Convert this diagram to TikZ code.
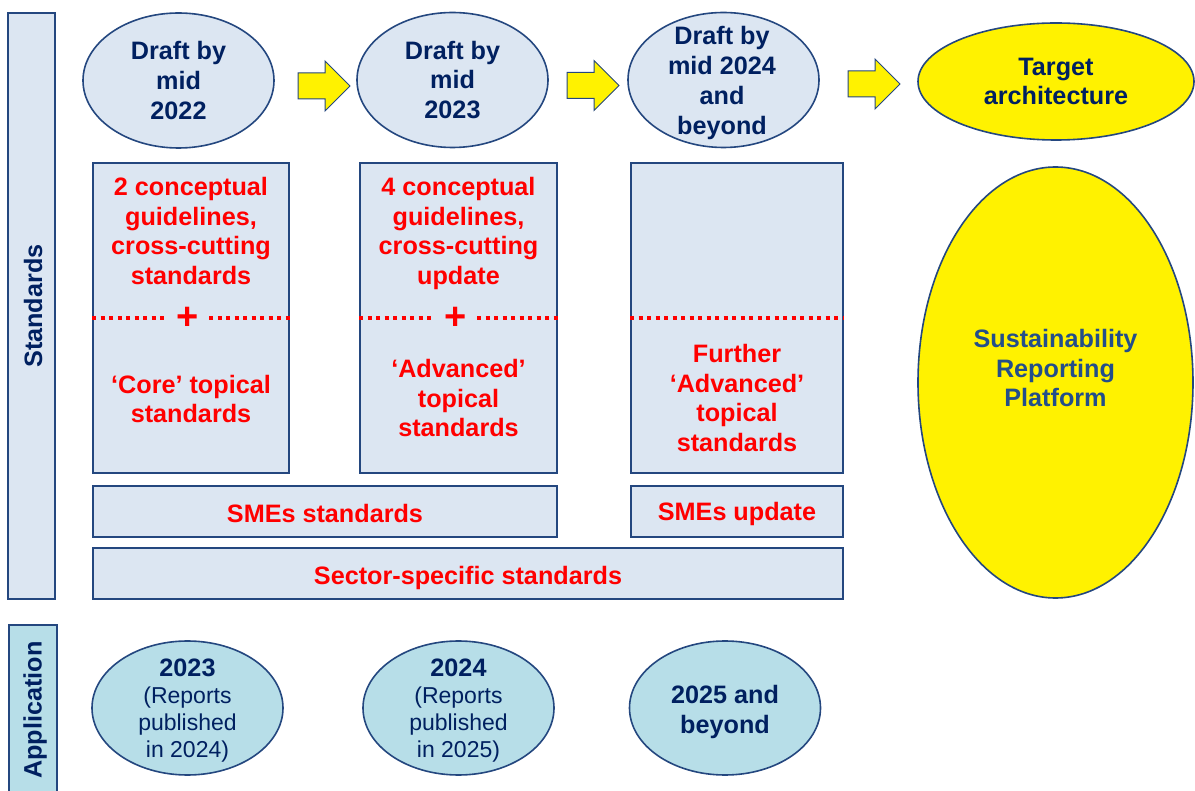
\documentclass[tikz,border=0pt]{standalone}
\usepackage{fontspec}
\setmainfont{Liberation Sans}
\usetikzlibrary{shapes.geometric}
\definecolor{boxfill}{HTML}{DCE6F2}
\definecolor{boxline}{HTML}{24477F}
\definecolor{navy}{HTML}{002060}
\definecolor{platblue}{HTML}{234E8A}
\definecolor{appfill}{HTML}{B7DEE8}
\definecolor{alertred}{HTML}{FF0000}
\tikzset{
  bigfont/.style={font=\fontsize{25.2}{29.8}\selectfont\bfseries},
  phase/.style={ellipse, draw=boxline, line width=1.6pt, fill=boxfill, inner sep=0pt,
    minimum width=191pt, minimum height=135pt, text=navy, align=center, bigfont},
  target/.style={phase, fill=yellow, minimum width=276pt, minimum height=117pt},
  apply/.style={phase, fill=appfill, minimum height=134pt},
  applytext/.style={text=navy, align=center, inner sep=0pt, font=\fontsize{23}{27}\selectfont},
  stdbox/.style={rectangle, draw=boxline, line width=1.8pt, fill=boxfill, inner sep=0pt},
  redtext/.style={bigfont, text=alertred, align=center, inner sep=0pt},
  plussign/.style={text=alertred, font=\fontsize{38}{38}\selectfont\bfseries, inner sep=0pt,
    minimum width=43pt},
  dotline/.style={alertred, line width=3.5pt, dash pattern=on 4pt off 4.5pt},
  blockarrow/.style={fill=yellow, draw=boxline, line width=1pt, line join=miter}
}
\begin{document}
\begin{tikzpicture}[x=1pt, y=-1pt]
\useasboundingbox (0,0) rectangle (1195,791);
\clip (0,0) rectangle (1195,791);

% side bars
\node[stdbox, minimum width=47pt, minimum height=586pt] (stdbar) at (31.5,306) {};
\node[rotate=90, bigfont, text=navy] (stdlab) at (33,306) {Standards};
\node[stdbox, fill=appfill, minimum width=48pt, minimum height=200pt] (appbar) at (33,725) {};
\node[rotate=90, bigfont, text=navy] (applab) at (35,710) {Application};

% drafts
\node[phase] (d1) at (178.5,80.5) {Draft by\\mid\\2022};
\node[phase] (d2) at (452.5,80) {Draft by\\mid\\2023};
\node[phase] (d3) at (723.5,80) {};
\node[bigfont, text=navy, align=center, inner sep=0pt] (d3lab) at (722,83)
  {Draft by\\mid 2024\\and\\beyond};
\node[target] (tgt) at (1056,81.5) {Target\\architecture};

% arrows: start x / centre y
\foreach \x/\c in {298/86, 567/85.5, 848/84}
  \draw[blockarrow] (\x,\c-13) -- (\x+27,\c-13) -- (\x+27,\c-25) -- (\x+52,\c)
    -- (\x+27,\c+25) -- (\x+27,\c+13) -- (\x,\c+13) -- cycle;

% standards columns
\node[stdbox, minimum width=196pt, minimum height=310pt] (col1) at (191,318) {};
\node[stdbox, minimum width=197pt, minimum height=310pt] (col2) at (458.5,318) {};
\node[stdbox, minimum width=212pt, minimum height=310pt] (col3) at (737,318) {};

\node[redtext] (c1top) at (191,231) {2 conceptual\\guidelines,\\cross-cutting\\standards};
\node[redtext] (c1bot) at (191,399) {‘Core’ topical\\standards};
\node[redtext] (c2top) at (458.5,233.5) {4 conceptual\\guidelines,\\cross-cutting\\update};
\node[redtext] (c2bot) at (458.5,398) {‘Advanced’\\topical\\standards};
\node[redtext] (c3bot) at (737,398) {Further\\‘Advanced’\\topical\\standards};

\node[plussign] (plus1) at (187.5,318) {+};
\node[plussign] (plus2) at (455.5,318) {+};
\draw[dotline] (col1.west) -- (plus1.west);
\draw[dotline] (plus1.east) -- (col1.east);
\draw[dotline] (col2.west) -- (plus2.west);
\draw[dotline] (plus2.east) -- (col2.east);
\draw[dotline] (col3.west) -- (col3.east);

% lower rows
\node[stdbox, minimum width=464pt, minimum height=51pt] (smes) at (325,511.5) {};
\node[stdbox, minimum width=212pt, minimum height=51pt] (smeup) at (737,511.5) {};
\node[stdbox, minimum width=750pt, minimum height=51pt] (sector) at (468,573.5) {};
\node[redtext, anchor=base] (smeslab) at (325,522) {SMEs standards};
\node[redtext, anchor=base] (smeuplab) at (737,521) {SMEs update};
\node[redtext, anchor=base] (sectorlab) at (468,584) {Sector-specific standards};

% platform
\node[target, minimum width=275pt, minimum height=431pt] (plat) at (1055.5,382.5) {};
\node[bigfont, text=platblue, align=center, inner sep=0pt] (platlab) at (1055.5,368)
  {Sustainability\\Reporting\\Platform};

% application
\node[apply] (a1) at (187.5,708) {};
\node[apply] (a2) at (458.5,708) {};
\node[apply] (a3) at (725,708) {};
\node[applytext] (a1lab) at (187.5,711)
  {{\fontsize{25.2}{27}\selectfont\bfseries 2023}\\(Reports\\published\\in 2024)};
\node[applytext] (a2lab) at (458.5,711)
  {{\fontsize{25.2}{27}\selectfont\bfseries 2024}\\(Reports\\published\\in 2025)};
\node[bigfont, text=navy, align=center, inner sep=0pt] (a3lab) at (725,712)
  {2025 and\\beyond};
\end{tikzpicture}
\end{document}
